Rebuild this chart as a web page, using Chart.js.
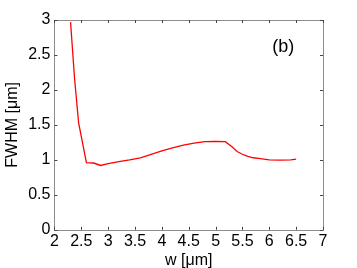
<!DOCTYPE html>
<html>
<head>
<meta charset="utf-8">
<script src="https://cdn.jsdelivr.net/npm/chart.js@4.4.1/dist/chart.umd.min.js"></script>
<style>
  html, body { margin: 0; padding: 0; background: #fff; }
  #wrap { width: 357px; height: 268px; }
</style>
</head>
<body>
<div id="wrap"><canvas id="fwhm-chart"></canvas></div>
<script>
// ── Data ─────────────────────────────────────────────
const wValues = [2.3, 2.375, 2.45, 2.595, 2.73, 2.86, 3.0, 3.2, 3.4, 3.6, 3.8, 4.0, 4.2, 4.4, 4.6, 4.8, 5.0, 5.18, 5.3, 5.4, 5.5, 5.6, 5.7, 5.8, 6.0, 6.2, 6.4, 6.5];
const fwhmValues = [2.97, 2.16, 1.53, 0.96, 0.955, 0.92, 0.945, 0.975, 1.0, 1.03, 1.08, 1.13, 1.17, 1.21, 1.24, 1.26, 1.265, 1.26, 1.19, 1.12, 1.08, 1.05, 1.03, 1.02, 1.0, 0.995, 1.0, 1.01];
const xTicks = [2, 2.5, 3, 3.5, 4, 4.5, 5, 5.5, 6, 6.5, 7];
const yTicks = [0, 0.5, 1, 1.5, 2, 2.5, 3];
const xTitle = 'w [\u03bcm]';
const yTitle = 'FWHM [\u03bcm]';
const panelLabel = '(b)';

const FONT = "'Liberation Sans', Arial, sans-serif";

// box frame with inward ticks on all four sides, plus the panel label
const framePlugin = {
  id: 'frame',
  afterDatasetsDraw(chart) {
    const { ctx, chartArea: a, scales: { x, y } } = chart;
    ctx.save();
    ctx.strokeStyle = '#8c8c8c';
    ctx.lineWidth = 1;
    ctx.strokeRect(Math.round(a.left) + 0.5, Math.round(a.top) + 0.5,
      Math.round(a.right - a.left), Math.round(a.bottom - a.top));

    ctx.strokeStyle = '#444';
    ctx.beginPath();
    xTicks.forEach((v) => {
      const px = Math.round(x.getPixelForValue(v)) + 0.5;
      ctx.moveTo(px, a.bottom); ctx.lineTo(px, a.bottom - 3);
      ctx.moveTo(px, a.top); ctx.lineTo(px, a.top + 3);
    });
    yTicks.forEach((v) => {
      const py = Math.round(y.getPixelForValue(v)) + 0.5;
      ctx.moveTo(a.left, py); ctx.lineTo(a.left + 3, py);
      ctx.moveTo(a.right, py); ctx.lineTo(a.right - 3, py);
    });
    ctx.stroke();

    ctx.fillStyle = '#000';
    ctx.font = '18px ' + FONT;
    ctx.textAlign = 'center';
    ctx.textBaseline = 'middle';
    ctx.fillText(panelLabel, x.getPixelForValue(6.26), y.getPixelForValue(2.61));
    ctx.restore();
  },
};

const tickFont = { family: FONT, size: 16 };
const fmt = (v) => String(v);

new Chart(document.getElementById('fwhm-chart'), {
  type: 'line',
  data: {
    datasets: [{
      data: wValues.map((w, i) => ({ x: w, y: fwhmValues[i] })),
      borderColor: '#ff0000',
      borderWidth: 1.3,
      pointRadius: 0,
      tension: 0,
      fill: false,
    }],
  },
  options: {
    responsive: true,
    maintainAspectRatio: false,
    animation: false,
    layout: { padding: { left: 3, right: 34, top: 20, bottom: -1 } },
    plugins: { legend: { display: false }, tooltip: { enabled: false } },
    scales: {
      x: {
        type: 'linear',
        min: 2,
        max: 7,
        afterBuildTicks: (s) => { s.ticks = xTicks.map((v) => ({ value: v })); },
        grid: { display: false, drawTicks: false },
        border: { display: false },
        ticks: { color: '#000', font: tickFont, padding: 2, maxRotation: 0, autoSkip: false, callback: fmt },
        title: { display: true, text: xTitle, color: '#000', font: { family: FONT, size: 16, lineHeight: 1 }, padding: { top: 0, bottom: 0 } },
      },
      y: {
        min: 0,
        max: 3,
        afterBuildTicks: (s) => { s.ticks = yTicks.map((v) => ({ value: v })); },
        grid: { display: false, drawTicks: false },
        border: { display: false },
        ticks: { color: '#000', font: tickFont, padding: 4, autoSkip: false, callback: fmt },
        title: { display: true, text: yTitle, color: '#000', font: tickFont, padding: { top: 0, bottom: 2 } },
      },
    },
  },
  plugins: [framePlugin],
});
</script>
</body>
</html>
